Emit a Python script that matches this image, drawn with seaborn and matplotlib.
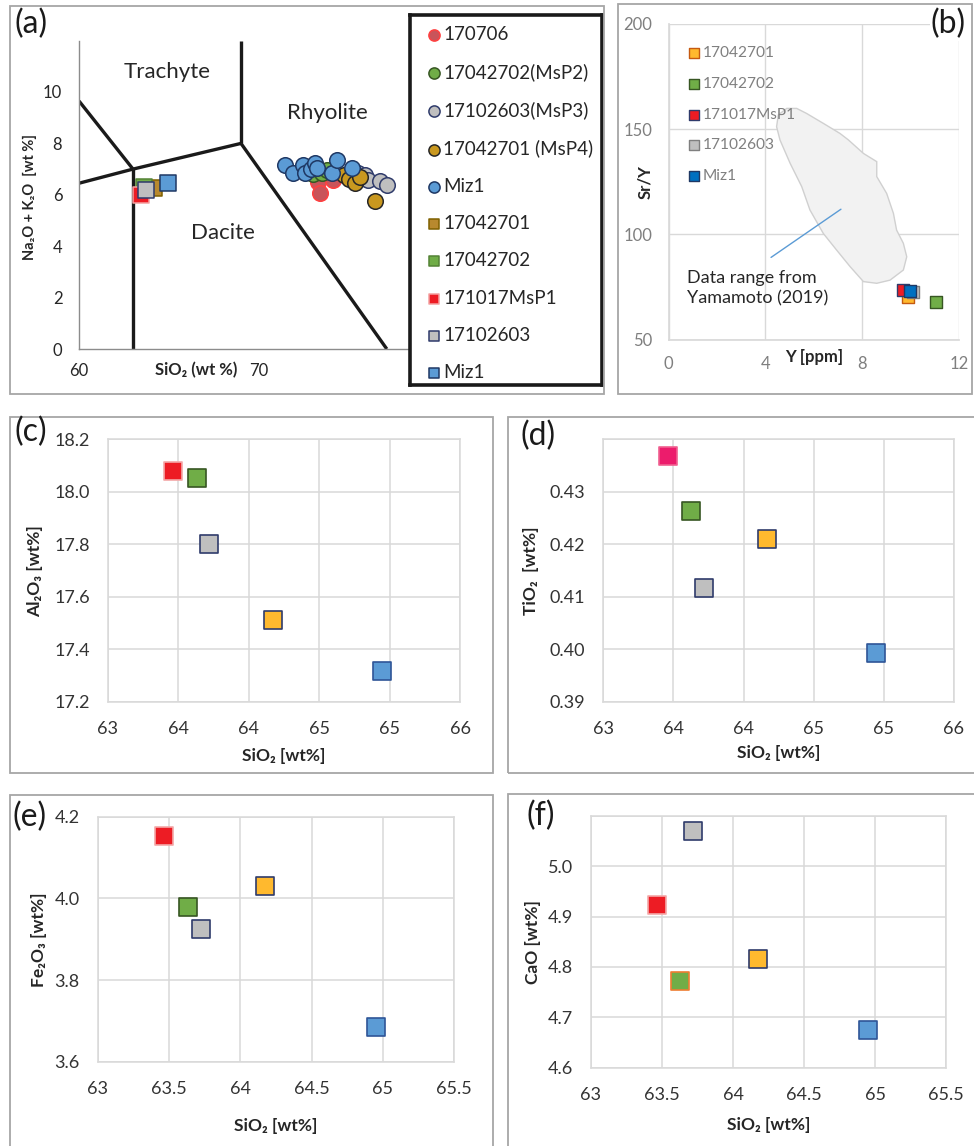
import numpy as np
import matplotlib
matplotlib.use("Agg")
import matplotlib.pyplot as plt
from matplotlib.patches import Rectangle
from matplotlib.ticker import FormatStrFormatter
import seaborn as sns

# ---------------- data ----------------
# (a) TAS diagram : whole-rock circles
tas_170706_sio2 = [73.3, 73.4, 74.1, 73.6]
tas_170706_alk = [6.5, 6.07, 6.58, 6.9]
tas_msp2_sio2 = [73.0, 73.5, 73.8]
tas_msp2_alk = [6.8, 6.85, 6.95]
tas_msp3_sio2 = [75.5, 75.9, 76.07, 76.72, 77.09]
tas_msp3_alk = [6.85, 6.77, 6.58, 6.52, 6.38]
tas_msp4_sio2 = [74.7, 75.0, 75.33, 75.61, 76.44]
tas_msp4_alk = [6.77, 6.6, 6.45, 6.71, 5.77]
tas_miz1_sio2 = [71.44, 71.87, 72.46, 72.56, 72.9, 73.11, 73.2, 74.04, 74.35, 75.18]
tas_miz1_alk = [7.16, 6.84, 7.16, 6.84, 7.0, 7.22, 7.06, 6.84, 7.35, 7.06]

# (a) TAS squares (this study)
sq_names = ["17042701", "17042702", "171017MsP1", "17102603", "Miz1"]
sq_tas_sio2 = [64.17, 63.63, 63.46, 63.72, 64.95]
sq_tas_alk = [6.25, 6.3, 6.0, 6.2, 6.45]

# TAS field boundaries
tas_bounds = [
    ([60.0, 63.0], [9.65, 7.0]),
    ([60.0, 63.0], [6.45, 7.0]),
    ([63.0, 63.0], [0.0, 7.0]),
    ([63.0, 69.0], [7.0, 8.0]),
    ([69.0, 69.0], [8.0, 12.0]),
    ([69.0, 77.1], [8.0, 0.0]),
]
tas_fields = ["Trachyte", "Rhyolite", "Dacite"]
tas_field_xy = [(64.9, 10.78), (73.8, 9.18), (68.0, 4.51)]

# (b) Sr/Y vs Y
b_names = ["17042701", "17042702", "171017MsP1", "17102603", "Miz1"]
b_y_ppm = [9.88, 11.05, 9.67, 10.08, 9.97]
b_sr_y = [70.4, 68.0, 73.5, 72.6, 73.2]
yamamoto_y = [4.88, 4.53, 4.46, 4.60, 5.02, 5.50, 5.84, 6.39, 6.94, 7.50, 8.05, 8.60,
              9.15, 9.70, 9.84, 9.70, 9.42, 9.29, 9.01, 8.60, 8.60, 8.05, 7.43, 7.08,
              6.39, 5.70, 5.29]
yamamoto_sry = [159.9, 156.8, 151.2, 144.9, 133.8, 122.7, 111.6, 100.5, 92.6, 84.7, 77.6,
                76.8, 78.3, 83.1, 89.4, 95.8, 102.1, 110.0, 119.5, 127.5, 134.6, 138.5,
                144.9, 148.0, 152.8, 157.5, 159.9]

# (c)-(f) oxide plots, order: red, green, grey, yellow, blue
ox_names = ["171017MsP1", "17042702", "17102603", "17042701", "Miz1"]
c_sio2 = [63.556, 63.757, 63.865, 64.406, 65.336]
c_al2o3 = [18.079, 18.054, 17.80, 17.513, 17.318]
d_sio2 = [63.553, 63.753, 63.861, 64.403, 65.336]
d_tio2 = [0.4369, 0.4263, 0.4117, 0.4211, 0.3994]
e_sio2 = [63.463, 63.631, 63.722, 64.171, 64.949]
e_fe2o3 = [4.154, 3.979, 3.926, 4.030, 3.686]
f_sio2 = [63.462, 63.628, 63.720, 64.172, 64.946]
f_cao = [4.922, 4.773, 5.070, 4.815, 4.675]

# ---------------- style ----------------
W, H = 974, 1146
sns.set_theme(style="white")
plt.rcParams["font.family"] = ["Lato", "DejaVu Sans"]
TXT = "#262626"
GRID = "#D9D9D9"
FRAME = "#A6A6A6"

fig = plt.figure(figsize=(W / 100, H / 100), dpi=100)
fig.patch.set_facecolor("white")


def px_axes(x0, y0, x1, y1):
    return fig.add_axes([x0 / W, 1 - y1 / H, (x1 - x0) / W, (y1 - y0) / H])


def frame(x0, y0, x1, y1):
    fig.patches.append(Rectangle((x0 / W, 1 - y1 / H), (x1 - x0) / W, (y1 - y0) / H,
                                 transform=fig.transFigure, fill=False,
                                 edgecolor=FRAME, lw=1.3, zorder=0))


def letter(txt, x, y, **kw):
    fig.text(x / W, 1 - y / H, txt, fontsize=23, color="#1a1a1a", va="top", ha="left", **kw)


def pts(ax, x, y, face, edge, marker="s", s=156, lw=1.2, label=None, z=3):
    sns.scatterplot(x=x, y=y, ax=ax, marker=marker, s=s, color=face, edgecolor=edge,
                    linewidth=lw, label=label, zorder=z, legend=False)


# ---------------- frames ----------------
frame(10, 6, 604, 394)
frame(618, 4, 972, 394)
frame(10, 417, 493, 773)
frame(508, 417, 990, 773)
frame(10, 795, 493, 1160)
frame(508, 794, 990, 1160)

# ---------------- (a) TAS ----------------
ax = px_axes(79, 40.6, 408, 349)
ax.set_xlim(60, 60 + (408 - 79) / 18.0)
ax.set_ylim(0, 12)
for bx, by in tas_bounds:
    ax.plot(bx, by, color="#1a1a1a", lw=2.4, solid_capstyle="butt", zorder=2)
for name, (tx, ty) in zip(tas_fields, tas_field_xy):
    ax.text(tx, ty, name, fontsize=16, color=TXT, ha="center", va="center")

circ = [
    (tas_170706_sio2, tas_170706_alk, "#C9545A", "#FF4040", "170706"),
    (tas_msp2_sio2, tas_msp2_alk, "#70AD47", "#375623", "17042702(MsP2)"),
    (tas_msp3_sio2, tas_msp3_alk, "#BFBFBF", "#2F3B6B", "17102603(MsP3)"),
    (tas_msp4_sio2, tas_msp4_alk, "#C9981F", "#262626", "17042701 (MsP4)"),
    (tas_miz1_sio2, tas_miz1_alk, "#5B9BD5", "#1F3864", "Miz1"),
]
for x, y, fc, ec, lab in circ:
    pts(ax, x, y, fc, ec, marker="o", s=125, lw=1.1, label=lab)

sq_face_a = ["#B8892E", "#70AD47", "#ED1C24", "#BFBFBF", "#5B9BD5"]
sq_edge_a = ["#7F6000", "#548235", "#F4A0A0", "#2F3B6B", "#1F3864"]
for i in range(len(sq_names)):
    pts(ax, [sq_tas_sio2[i]], [sq_tas_alk[i]], sq_face_a[i], sq_edge_a[i],
        s=120, lw=1.1, label=sq_names[i], z=4)

ax.set_xticks([60, 70])
ax.set_yticks(np.arange(0, 11, 2))
ax.tick_params(length=0, labelsize=12, colors=TXT, pad=10)
ax.tick_params(axis="y", pad=12)
for sp in ["top", "right"]:
    ax.spines[sp].set_visible(False)
for sp in ["left", "bottom"]:
    ax.spines[sp].set_color("#8C8C8C")
    ax.spines[sp].set_linewidth(1.0)
ax.set_xlabel("")
ax.set_ylabel("Na₂O + K₂O  [wt %]", fontsize=10.5, fontweight="bold", color=TXT)
ax.yaxis.set_label_coords(-0.128, 0.493)
ax.text(66.5, -0.82, "SiO₂ (wt %)", fontsize=12, fontweight="bold", color=TXT,
        ha="center", va="center", clip_on=False)

handles, labels = ax.get_legend_handles_labels()
axl = px_axes(410, 15, 602, 385)
axl.set_xticks([])
axl.set_yticks([])
axl.set_facecolor("white")
for sp in axl.spines.values():
    sp.set_color("#1a1a1a")
    sp.set_linewidth(2.6)
axl.legend(handles, labels, loc="upper left", bbox_to_anchor=(0.075, 0.97),
           frameon=False, fontsize=13.5, borderaxespad=0, borderpad=0,
           labelspacing=1.08, handletextpad=0.0, markerscale=0.72, handlelength=1.0)
letter("(a)", 14, 9)

# ---------------- (b) Sr/Y ----------------
ax = px_axes(668.7, 24, 959, 339.7)
ax.set_xlim(0, 12)
ax.set_ylim(50, 200)
ax.fill(yamamoto_y, yamamoto_sry, facecolor="#F2F2F2", edgecolor="#D0D0D0", lw=1.0, zorder=1)
ax.plot([4.23, 7.12], [89.1, 112.0], color="#5B9BD5", lw=1.0, zorder=2)
ax.text(0.77, 83, "Data range from\nYamamoto (2019)", fontsize=13, color=TXT,
        ha="left", va="top", linespacing=1.3)
b_face = ["#FFB92E", "#70AD47", "#ED1C24", "#BFBFBF", "#0070C0"]
b_edge = ["#C55A11", "#375623", "#2F3B6B", "#7F7F7F", "#1F3864"]
for i in range(len(b_names)):
    pts(ax, [b_y_ppm[i]], [b_sr_y[i]], b_face[i], b_edge[i], s=80, lw=1.0,
        label=b_names[i], z=3 + (i == 4))
ax.set_xticks([0, 4, 8, 12])
ax.set_yticks([50, 100, 150, 200])
ax.grid(True, color=GRID, lw=1.0)
ax.tick_params(length=0, labelsize=12, colors="#7F7F7F", pad=12)
for sp in ["top", "right"]:
    ax.spines[sp].set_visible(False)
for sp in ["left", "bottom"]:
    ax.spines[sp].set_color(GRID)
ax.set_xlabel("")
ax.set_ylabel("Sr/Y", fontsize=12, fontweight="bold", color=TXT)
ax.yaxis.set_label_coords(-0.054, 0.5)
ax.text(6.0, 41.6, "Y [ppm]", fontsize=12, fontweight="bold", color=TXT,
        ha="center", va="center", clip_on=False)
leg = ax.legend(loc="upper left", bbox_to_anchor=(0.062, 0.93), frameon=False,
                fontsize=11.2, borderaxespad=0, borderpad=0,
                labelspacing=1.08, handletextpad=0.15, markerscale=0.82, handlelength=0.9)
for t in leg.get_texts():
    t.set_color("#808080")
fig.text(931 / W, 1 - 9 / H, "(b)", fontsize=23, color="#1a1a1a", va="top", ha="left",
         bbox=dict(facecolor="white", edgecolor="none", pad=1))

# ---------------- (c)-(f) ----------------
ox_face = ["#ED1C24", "#70AD47", "#BFBFBF", "#FFB92E", "#5B9BD5"]
ox_edge = ["#F4A8A8", "#375623", "#2F3B6B", "#2F3B6B", "#2F5597"]


def oxide_panel(box, xs, ys, xlim, ylim, xticks, yticks, xfmt, yfmt, ylab,
                xlab_y, ylab_x, face=ox_face, edge=ox_edge):
    ax = px_axes(*box)
    for i in range(len(ox_names)):
        pts(ax, [xs[i]], [ys[i]], face[i], edge[i], s=156, lw=1.2)
    ax.set_xlim(*xlim)
    ax.set_ylim(*ylim)
    ax.set_xticks(xticks)
    ax.set_yticks(yticks)
    ax.xaxis.set_major_formatter(FormatStrFormatter(xfmt))
    ax.yaxis.set_major_formatter(FormatStrFormatter(yfmt))
    ax.grid(True, color=GRID, lw=1.1)
    for sp in ax.spines.values():
        sp.set_color(GRID)
        sp.set_linewidth(1.1)
    ax.tick_params(length=0, labelsize=13, colors="#333333", pad=13)
    ax.tick_params(axis="x", pad=14)
    ax.set_xlabel("SiO₂ [wt%]", fontsize=12.5, fontweight="bold", color=TXT)
    ax.set_ylabel(ylab, fontsize=12.5, fontweight="bold", color=TXT)
    ax.xaxis.set_label_coords(0.5, xlab_y)
    ax.yaxis.set_label_coords(ylab_x, 0.5)
    return ax


oxide_panel((107.7, 439.3, 460.3, 702), c_sio2, c_al2o3, (63, 66), (17.2, 18.2),
            np.linspace(63, 66, 6), np.arange(17.2, 18.21, 0.2), "%.0f", "%.1f",
            "Al₂O₃ [wt%]", -0.175, -0.183)
letter("(c)", 15, 417)

d_face = ["#EC1C6C"] + ox_face[1:]
d_edge = ["#F06090"] + ox_edge[1:]
axd = oxide_panel((603.3, 439.3, 954, 702), d_sio2, d_tio2, (63, 66), (0.39, 0.44),
                  np.linspace(63, 66, 6), np.arange(0.39, 0.4401, 0.01), "%.0f", "%.2f",
                  "TiO₂  [wt%]", -0.164, -0.182, face=d_face, edge=d_edge)
axd.set_yticklabels(["0.39", "0.40", "0.41", "0.42", "0.43", ""])
letter("(d)", 521, 421)

oxide_panel((97.7, 816.7, 454.3, 1062), e_sio2, e_fe2o3, (63, 65.5), (3.6, 4.2),
            np.arange(63, 65.51, 0.5), np.arange(3.6, 4.21, 0.2), "%g", "%.1f",
            "Fe₂O₃ [wt%]", -0.228, -0.143)
letter("(e)", 12, 802)

f_edge = [ox_edge[0], "#ED7D31"] + ox_edge[2:]
axf = oxide_panel((591, 815.7, 946.3, 1067.7), f_sio2, f_cao, (63, 65.5), (4.6, 5.1),
                  np.arange(63, 65.51, 0.5), np.arange(4.6, 5.11, 0.1), "%g", "%.1f",
                  "CaO [wt%]", -0.194, -0.142, edge=f_edge)
axf.set_yticklabels(["4.6", "4.7", "4.8", "4.9", "5.0", ""])
letter("(f)", 526, 801)

fig.savefig("out.png", dpi=100)
